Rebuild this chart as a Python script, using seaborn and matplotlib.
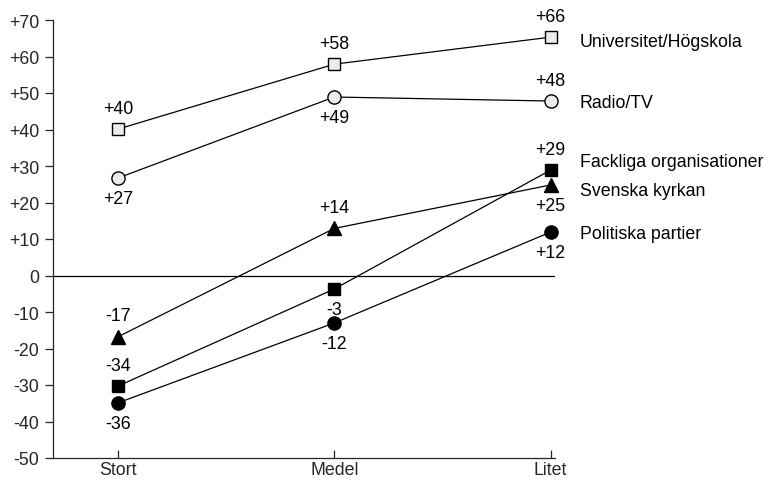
import matplotlib
matplotlib.use("Agg")
import matplotlib.pyplot as plt
import seaborn as sns
import pandas as pd

categories = ["Stort", "Medel", "Litet"]
series_names = ["Universitet/Högskola", "Radio/TV", "Fackliga organisationer",
                "Svenska kyrkan", "Politiska partier"]
# plotted positions
univ = [40.1, 57.9, 65.3]
radio = [26.7, 48.9, 47.8]
fackliga = [-30.3, -3.7, 28.9]
kyrkan = [-16.8, 12.9, 24.8]
politiska = [-34.9, -13.0, 11.9]
# printed value labels
univ_lbl = ["+40", "+58", "+66"]
radio_lbl = ["+27", "+49", "+48"]
fackliga_lbl = ["-34", "-3", "+29"]
kyrkan_lbl = ["-17", "+14", "+25"]
politiska_lbl = ["-36", "-12", "+12"]
# label placement: 1 above, -1 below
univ_pos = [1, 1, 1]
radio_pos = [-1, -1, 1]
fackliga_pos = [1, -1, 1]
kyrkan_pos = [1, 1, -1]
politiska_pos = [-1, -1, -1]
legend_y = [64.2, 47.5, 31.1, 23.2, 11.6]
yticks = list(range(-50, 71, 10))
ytick_labels = ["+%d" % v if v > 0 else str(v) for v in yticks]

sns.set_style("ticks")
plt.rcParams["font.family"] = ["Liberation Sans", "DejaVu Sans"]

FS = 12.8

fig = plt.figure(figsize=(7.68, 4.81), dpi=100)
ax = fig.add_axes([53/768, 1-459/481, (555-53)/768, (459-21)/481])

data = [univ, radio, fackliga, kyrkan, politiska]
labels = [univ_lbl, radio_lbl, fackliga_lbl, kyrkan_lbl, politiska_lbl]
positions = [univ_pos, radio_pos, fackliga_pos, kyrkan_pos, politiska_pos]
markers = ["s", "o", "s", "^", "o"]
faces = ["#ececec", "#ececec", "black", "black", "black"]
msizes = [8.5, 9.5, 8.5, 10, 9.5]

ax.axhline(0, color="black", lw=0.9, zorder=1)

for name, vals, lbls, pos, m, fc, ms in zip(series_names, data, labels, positions,
                                            markers, faces, msizes):
    df = pd.DataFrame({"cat": categories, "val": vals})
    sns.lineplot(data=df, x="cat", y="val", ax=ax, color="black", lw=0.9,
                 marker=m, markersize=ms, markerfacecolor=fc,
                 markeredgecolor="black", markeredgewidth=1.0, zorder=3,
                 clip_on=False)
    for i, (v, l, p) in enumerate(zip(vals, lbls, pos)):
        ax.annotate(l, xy=(i, v), xytext=(0, 15 * p), textcoords="offset points",
                    ha="center", va="center", fontsize=FS, color="black")

for name, ly in zip(series_names, legend_y):
    ax.text(1.0498, ly, name, transform=ax.get_yaxis_transform(),
            ha="left", va="center", fontsize=FS, color="black", clip_on=False)

ax.set_xlim(-0.3, 2.02)
ax.set_ylim(-50, 70)
ax.set_yticks(yticks)
ax.set_yticklabels(ytick_labels)
ax.set_xlabel("")
ax.set_ylabel("")
sns.despine(ax=ax)
ax.spines["left"].set_linewidth(0.9)
ax.spines["bottom"].set_linewidth(0.9)
ax.tick_params(axis="y", direction="out", length=6, width=0.9, labelsize=FS, pad=4)
ax.tick_params(axis="x", direction="in", length=6, width=0.9, labelsize=FS, pad=2)

fig.savefig("out.png", dpi=100)
